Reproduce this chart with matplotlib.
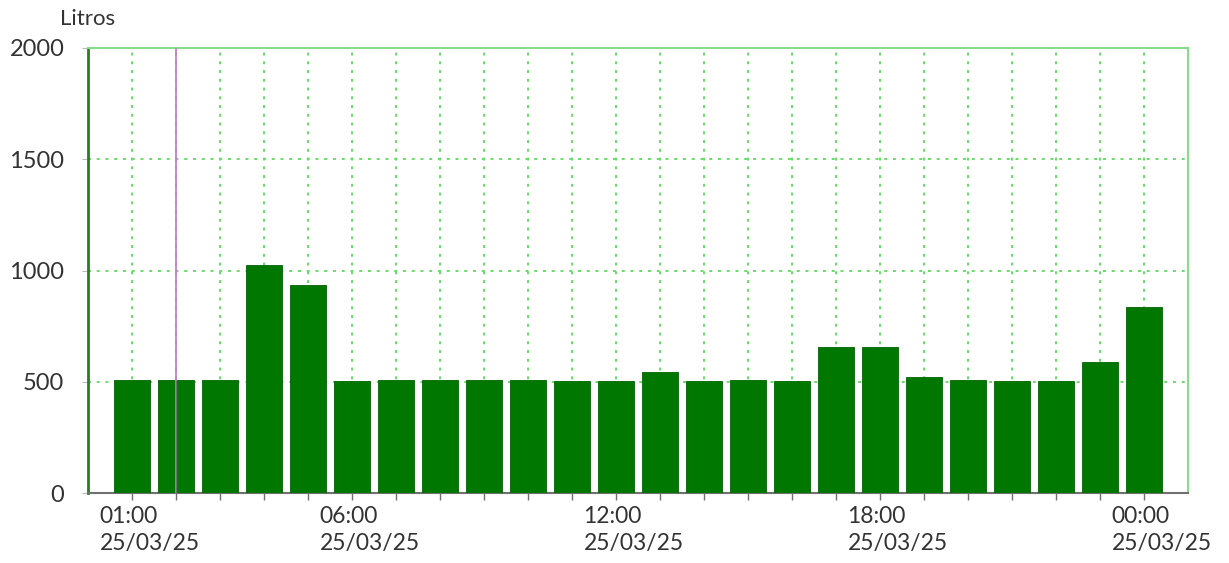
import matplotlib.pyplot as plt

plt.rcParams['font.family'] = ['Lato', 'DejaVu Sans']

# Data: hourly consumption (litres)
hours = list(range(1, 25))
litros = [510, 510, 510, 1025, 935, 503, 508, 508, 508, 508, 503, 503,
          543, 503, 508, 503, 656, 656, 523, 508, 503, 503, 587, 835]
tick_pos = [1, 6, 12, 18, 24]
tick_text = ["01:00\n25/03/25", "06:00\n25/03/25", "12:00\n25/03/25",
             "18:00\n25/03/25", "00:00\n25/03/25"]
marker_hour = 2

fig = plt.figure(figsize=(12.29, 5.63), dpi=100)
ax = fig.add_axes([88 / 1229, 1 - 493 / 563, 1100 / 1229, 445 / 563])

ax.bar(hours, litros, width=0.8, color='#007700', edgecolor='#006400',
       linewidth=0.6, zorder=3)

ax.set_xlim(0, 25)
ax.set_ylim(0, 2000)
ax.set_yticks([0, 500, 1000, 1500, 2000])
ax.set_xticks(hours)
ax.set_xticklabels([])

# grid
for h in hours:
    ax.axvline(h, color='#66dd66', linestyle=(0, (1.5, 3)), linewidth=1.4, zorder=1)
for v in [500, 1000, 1500]:
    ax.axhline(v, color='#66dd66', linestyle=(0, (1.5, 3)), linewidth=1.4, zorder=1)

ax.axvline(marker_hour, color='#c080c8', linewidth=1.3, zorder=4)
ax.axvline(marker_hour, ymax=505 / 2000, color='#707070', linewidth=1.0, zorder=4)

for s in ['top', 'right']:
    ax.spines[s].set_color('#88dd88')
    ax.spines[s].set_linewidth(1.5)
ax.spines['left'].set_color('#2a7a2a')
ax.spines['left'].set_linewidth(2)
ax.spines['bottom'].set_color('#707070')
ax.spines['bottom'].set_linewidth(1.5)

ax.tick_params(axis='x', length=5, color='#707070', width=1)
ax.tick_params(axis='y', length=4, color='#bbbbbb', labelsize=17,
               labelcolor='#333333', pad=13)

for p, t in zip(tick_pos, tick_text):
    ax.text(p - 0.74, -0.03, t, transform=ax.get_xaxis_transform(),
            ha='left', va='top', fontsize=16.5, color='#333333', linespacing=1.35)

fig.text(60 / 1229, 1 - 19 / 563, "Litros", ha='left', va='center',
         fontsize=16, color='#333333')

fig.savefig('out.png', dpi=100)
